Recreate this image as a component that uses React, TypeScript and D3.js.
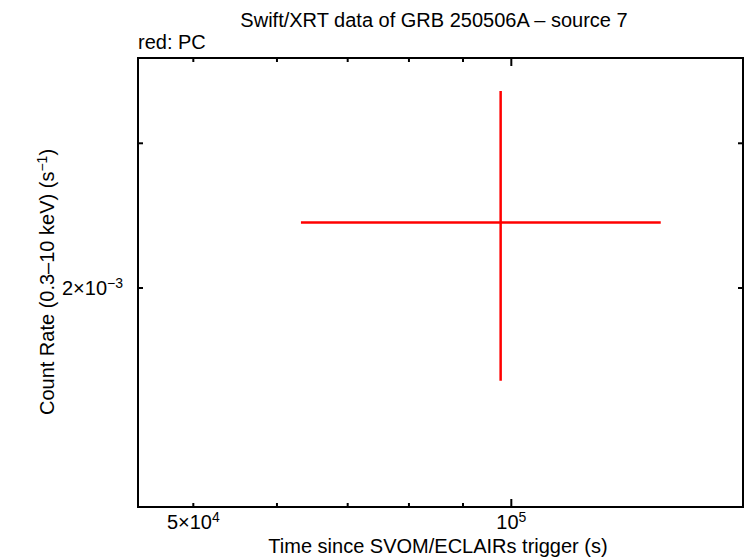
import * as d3 from 'd3';
import React from 'react';

// one PC-mode bin
const time = [97700];
const timeLo = [63220];
const timeHi = [138500];
const rate = [2.4025e-3];
const rateLo = [1.5425e-3];
const rateHi = [3.4737e-3];

const xDomain = [44320, 165700];
const yDomain = [1.0826e-3, 3.81e-3];

const xMajor = [1e5];
const xMinor = [5e4, 6e4, 7e4, 8e4, 9e4];
const xLabels = [
    { v: 5e4, base: '5\u00d710', exp: '4' },
    { v: 1e5, base: '10', exp: '5' },
];
const yMinor = [2e-3, 3e-3];
const yLabels = [{ v: 2e-3, base: '2\u00d710', exp: '\u22123' }];

const W = 746, H = 558;
const left = 138, right = 743, top = 58, bottom = 507;
const font = 'Liberation Sans, Arial, Helvetica, sans-serif';
const fs = 20;
const sup = 14;

export default function App() {
    const x = d3.scaleLog().domain(xDomain).range([left, right]);
    const y = d3.scaleLog().domain(yDomain).range([bottom, top]);
    const red = '#ff0000';

    return (
        <svg width={W} height={H} style={{ position: 'absolute', left: 0, top: 0 }}
            fontFamily={font}>
            <rect width={W} height={H} fill="#fff" />
            <text x={434} y={27} textAnchor="middle" fontSize={fs}>
                Swift/XRT data of GRB 250506A {'\u2013'} source 7
            </text>
            <text x={138} y={49} fontSize={fs}>red: PC</text>

            {/* ticks, bottom & top */}
            {xMinor.map(v => (
                <g key={'xm' + v}>
                    <line x1={x(v)} x2={x(v)} y1={bottom} y2={bottom - 4} stroke="#000" strokeWidth={2} />
                    <line x1={x(v)} x2={x(v)} y1={top} y2={top + 4} stroke="#000" strokeWidth={2} />
                </g>
            ))}
            {xMajor.map(v => (
                <g key={'xM' + v}>
                    <line x1={x(v)} x2={x(v)} y1={bottom} y2={bottom - 8} stroke="#000" strokeWidth={2} />
                    <line x1={x(v)} x2={x(v)} y1={top} y2={top + 8} stroke="#000" strokeWidth={2} />
                </g>
            ))}
            {yMinor.map(v => (
                <g key={'ym' + v}>
                    <line x1={left} x2={left + 5} y1={y(v)} y2={y(v)} stroke="#000" strokeWidth={2} />
                    <line x1={right} x2={right - 5} y1={y(v)} y2={y(v)} stroke="#000" strokeWidth={2} />
                </g>
            ))}

            {xLabels.map(d => (
                <text key={'xl' + d.v} x={x(d.v)} y={529} textAnchor="middle" fontSize={fs}>
                    {d.base}<tspan fontSize={sup} dy={-7}>{d.exp}</tspan>
                </text>
            ))}
            {yLabels.map(d => (
                <text key={'yl' + d.v} x={123} y={y(d.v) + 7} textAnchor="end" fontSize={fs}>
                    {d.base}<tspan fontSize={sup} dy={-7}>{d.exp}</tspan>
                </text>
            ))}

            <text x={438} y={553} textAnchor="middle" fontSize={fs}>
                Time since SVOM/ECLAIRs trigger (s)
            </text>
            <text transform={`translate(54,282) rotate(-90)`} textAnchor="middle" fontSize={fs}>
                Count Rate (0.3{'\u2013'}10 keV) (s<tspan fontSize={sup} dy={-7}>{'\u2212'}1</tspan><tspan dy={7}>)</tspan>
            </text>

            {/* error bars */}
            {time.map((t, i) => (
                <g key={'p' + i} stroke={red} strokeWidth={2.5}>
                    <line x1={x(timeLo[i])} x2={x(timeHi[i])} y1={y(rate[i])} y2={y(rate[i])} />
                    <line x1={x(t)} x2={x(t)} y1={y(rateLo[i])} y2={y(rateHi[i])} />
                </g>
            ))}

            <rect x={left} y={top} width={right - left} height={bottom - top}
                fill="none" stroke="#000" strokeWidth={2} />
        </svg>
    );
}
